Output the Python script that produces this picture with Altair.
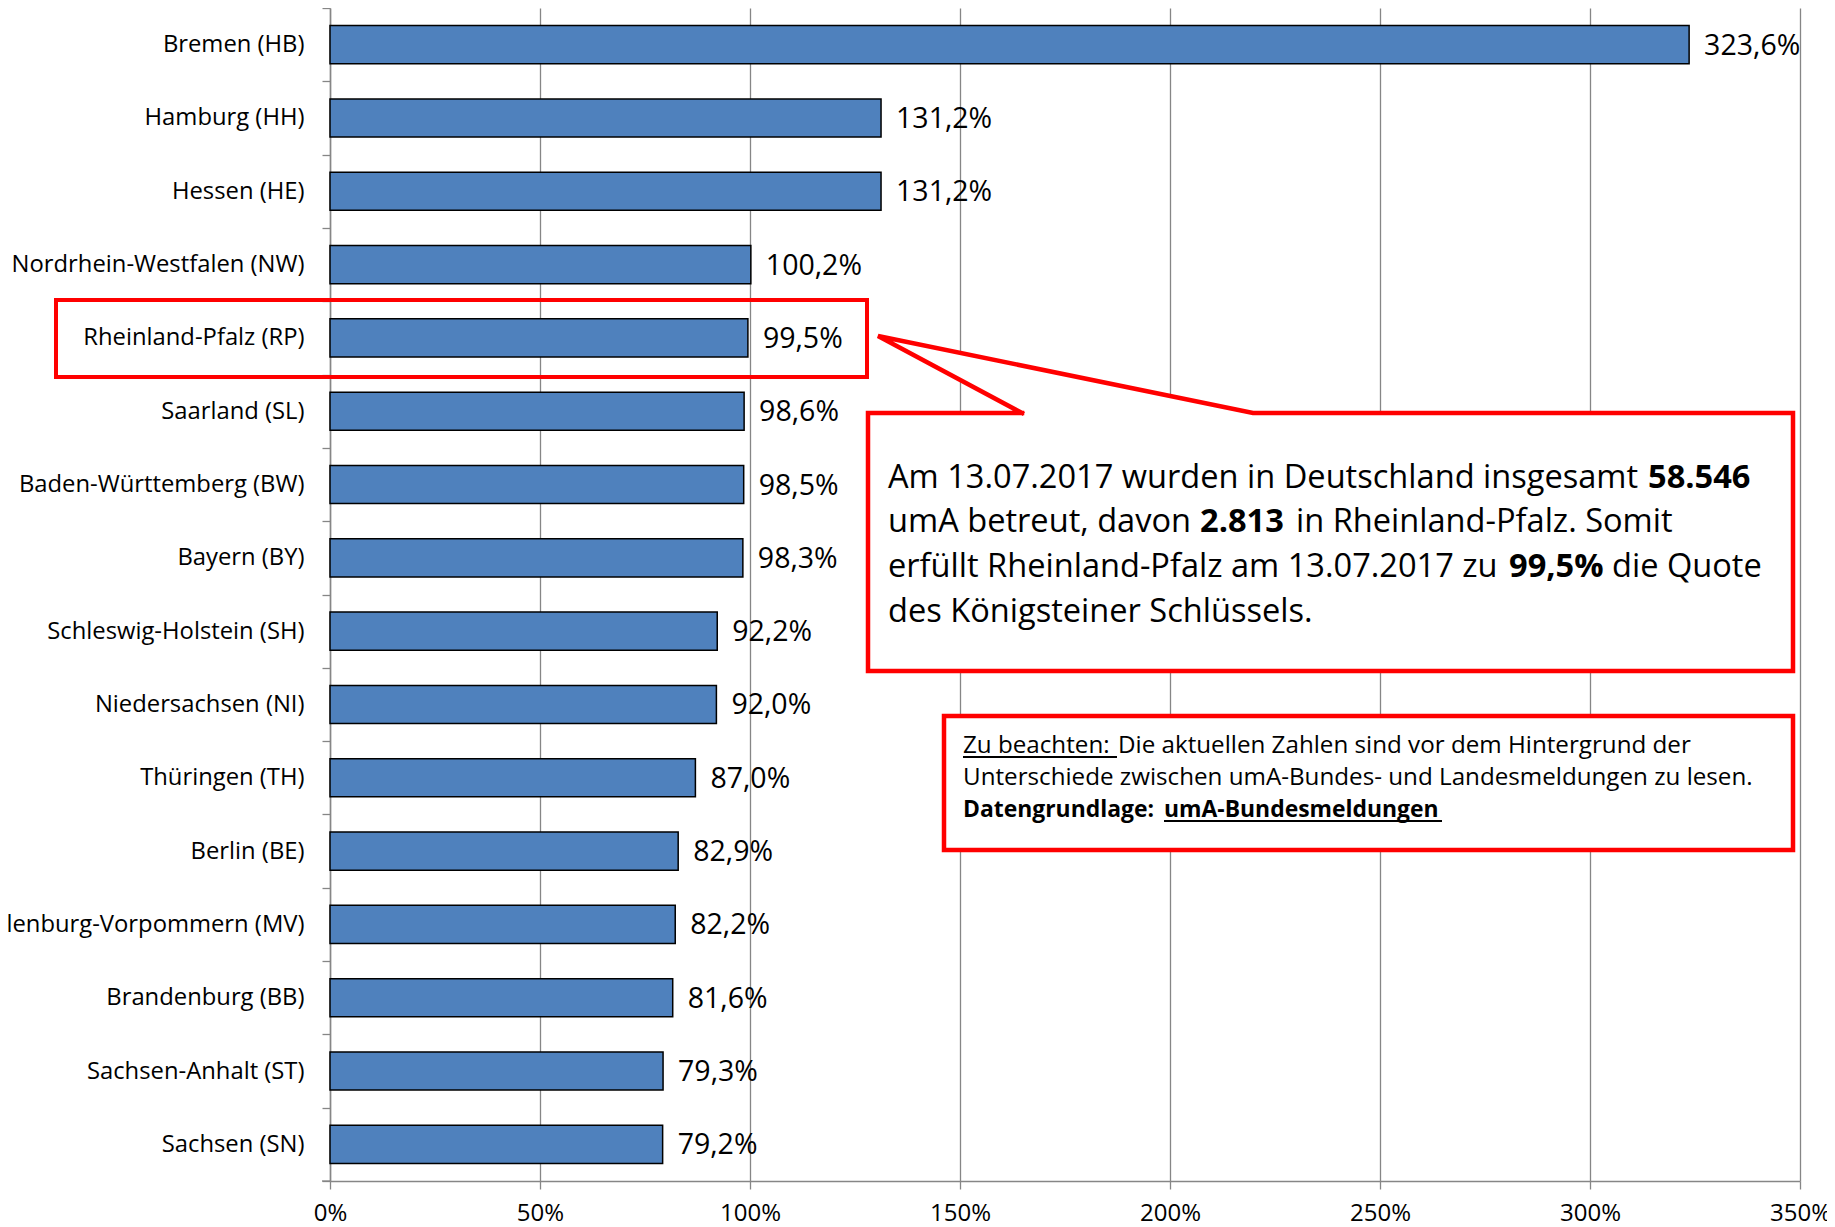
import altair as alt
import pandas as pd

# ---------------- data ----------------
states = [
    "Bremen (HB)", "Hamburg (HH)", "Hessen (HE)", "Nordrhein-Westfalen (NW)",
    "Rheinland-Pfalz (RP)", "Saarland (SL)", "Baden-Württemberg (BW)", "Bayern (BY)",
    "Schleswig-Holstein (SH)", "Niedersachsen (NI)", "Thüringen (TH)", "Berlin (BE)",
    "Mecklenburg-Vorpommern (MV)", "Brandenburg (BB)", "Sachsen-Anhalt (ST)", "Sachsen (SN)",
]
quote = [323.6, 131.2, 131.2, 100.2, 99.5, 98.6, 98.5, 98.3,
         92.2, 92.0, 87.0, 82.9, 82.2, 81.6, 79.3, 79.2]
x_ticks = [0, 50, 100, 150, 200, 250, 300, 350]

callout_lines = [
    [("Am 13.07.2017 wurden in Deutschland insgesamt", "normal"), ("58.546", "bold")],
    [("umA betreut, davon", "normal"), ("2.813", "bold"), ("in Rheinland-Pfalz. Somit", "normal")],
    [("erfüllt Rheinland-Pfalz am 13.07.2017 zu", "normal"), ("99,5%", "bold"), ("die Quote", "normal")],
    [("des Königsteiner Schlüssels.", "normal")],
]
note_lines = [
    [("Zu beachten:", "normal", True), ("Die aktuellen Zahlen sind vor dem Hintergrund der", "normal", False)],
    [("Unterschiede zwischen umA-Bundes- und Landesmeldungen zu lesen.", "normal", False)],
    [("Datengrundlage:", "bold", False), ("umA-Bundesmeldungen", "bold", True)],
]

# ---------------- layout / style ----------------
FONT = "Open Sans"
GRID = "#868686"
BAR = "#4F81BD"
RED = "#FF0000"
W, H = 1470, 1173

# annotation layout (pixels inside the plot area)
callout_seg_x = [[558, 1318], [558, 870, 966], [558, 1179, 1282], [558]]
callout_base_y = [480, 524, 569, 614]
note_seg_x = [[633, 788], [633], [633, 834]]
note_seg_w = [[154, 0], [0], [0, 278]]
note_base_y = [745, 777, 809]

df = pd.DataFrame({
    "state": states,
    "quote": quote,
    "label": [f"{v:.1f}".replace(".", ",") + "%" for v in quote],
})

y_enc = alt.Y(
    "state:N", sort=states,
    scale=alt.Scale(paddingInner=0, paddingOuter=0),
    axis=alt.Axis(title=None, tickBand="extent", tickSize=8, tickColor=GRID, tickWidth=1.3,
                  domainColor=GRID, domainWidth=1.5, labelFont=FONT, labelFontSize=23.8,
                  labelColor="black", labelPadding=18, labelLimit=0, grid=False),
)
x_enc = alt.X(
    "quote:Q",
    scale=alt.Scale(domain=[0, 350], nice=False),
    axis=alt.Axis(title=None, values=x_ticks, labelExpr="datum.value + '%'", grid=True,
                  gridColor=GRID, gridWidth=1.3, domainColor=GRID, domainWidth=1.5,
                  tickColor=GRID, tickWidth=1.3, tickSize=8, labelFont=FONT, labelFontSize=24,
                  labelColor="black", labelPadding=12, labelFlush=False),
)

bars = alt.Chart(df).mark_bar(
    height={"band": 0.52}, color=BAR, stroke="black", strokeWidth=1.5
).encode(x=x_enc, y=y_enc)

values = alt.Chart(df).mark_text(
    align="left", baseline="middle", dx=15, dy=1, font=FONT, fontSize=28.5, color="black"
).encode(x="quote:Q", y=alt.Y("state:N", sort=states), text="label:N")

one = alt.Data(values=[{}])

highlight = alt.Chart(one).mark_rect(
    fill="transparent", stroke=RED, strokeWidth=4
).encode(x=alt.value(-274), x2=alt.value(537), y=alt.value(292), y2=alt.value(369))

callout_bg = alt.Chart(one).mark_rect(fill="white").encode(
    x=alt.value(538), x2=alt.value(1463), y=alt.value(405), y2=alt.value(663))

tip = (548, 328)
pa = (692, 405)
pb = (923, 405)
upper_at_a = tip[1] + (pa[0] - tip[0]) * (pb[1] - tip[1]) / (pb[0] - tip[0])
tri_df = pd.DataFrame({"x": [tip[0], pa[0], pb[0]],
                       "y": [tip[1], upper_at_a, pb[1]],
                       "y2": [tip[1], pa[1], pb[1]]})
triangle = alt.Chart(tri_df).mark_area(color="white", opacity=1).encode(
    x=alt.X("x:Q", scale=None), y=alt.Y("y:Q", scale=None), y2="y2:Q")

outline_df = pd.DataFrame({
    "x": [pa[0], tip[0], pb[0], 1463, 1463, 538, 538, pa[0]],
    "y": [pa[1], tip[1], pb[1], 405, 663, 663, 405, pa[1]],
    "i": list(range(8)),
})
outline = alt.Chart(outline_df).mark_line(
    color=RED, strokeWidth=4.5, strokeJoin="miter", strokeCap="square"
).encode(x=alt.X("x:Q", scale=None), y=alt.Y("y:Q", scale=None), order="i:Q")

note_box = alt.Chart(one).mark_rect(fill="white", stroke=RED, strokeWidth=4.5).encode(
    x=alt.value(614), x2=alt.value(1463), y=alt.value(708), y2=alt.value(842))

texts = []
for line, xs, yb in zip(callout_lines, callout_seg_x, callout_base_y):
    for (t, wgt), xx in zip(line, xs):
        texts.append(alt.Chart(one).mark_text(
            align="left", baseline="alphabetic", font=FONT, fontSize=32.6,
            fontWeight=wgt, color="black"
        ).encode(x=alt.value(xx), y=alt.value(yb), text=alt.value(t)))

for line, xs, ws, yb in zip(note_lines, note_seg_x, note_seg_w, note_base_y):
    for (t, wgt, und), xx, ww in zip(line, xs, ws):
        texts.append(alt.Chart(one).mark_text(
            align="left", baseline="alphabetic", font=FONT,
            fontSize=22.9 if wgt == "bold" else 24.2,
            fontWeight=wgt, color="black"
        ).encode(x=alt.value(xx), y=alt.value(yb), text=alt.value(t)))
        if und:
            texts.append(alt.Chart(one).mark_rule(color="black", strokeWidth=1.8).encode(
                x=alt.value(xx), x2=alt.value(xx + ww), y=alt.value(yb + 4)))

bottom_tick = alt.Chart(one).mark_rule(color=GRID, strokeWidth=1.3).encode(
    x=alt.value(-8), x2=alt.value(0), y=alt.value(H))

chart = alt.layer(
    bars, values, bottom_tick, highlight, callout_bg, triangle, outline, note_box, *texts
).properties(
    width=W, height=H,
    padding={"left": 322, "top": 0, "right": 27, "bottom": 45},
    autosize=alt.AutoSizeParams(type="none"),
    background="white",
).configure_view(stroke=None)

chart.save("out.html", embed_options={"renderer": "svg", "actions": False})
